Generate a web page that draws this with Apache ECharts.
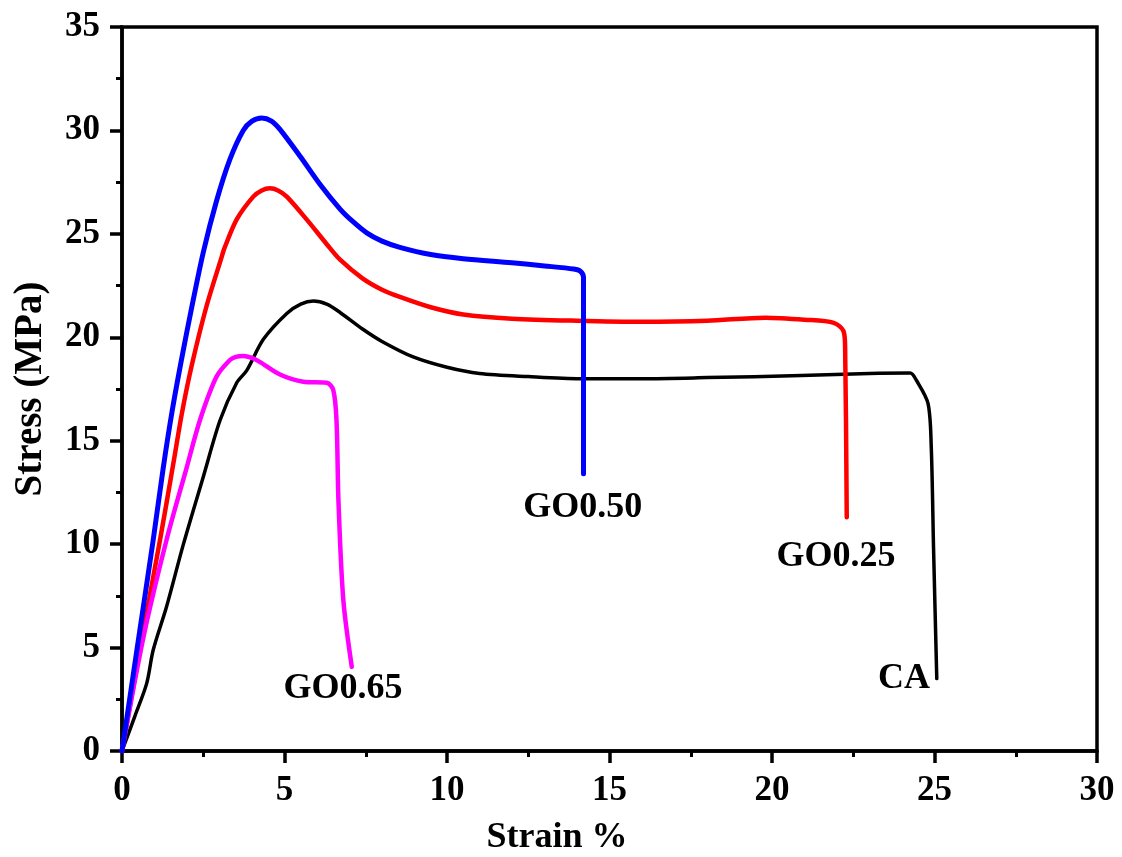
<!DOCTYPE html>
<html><head><meta charset="utf-8">
<script src="https://cdn.jsdelivr.net/npm/echarts@6/dist/echarts.min.js"></script>
<style>html,body{margin:0;padding:0;background:#fff}#c{width:1122px;height:857px}</style>
</head><body><div id="c"></div>
<script>
const xTicks = [0, 5, 10, 15, 20, 25, 30];
const yTicks = [0, 5, 10, 15, 20, 25, 30, 35];

const CA = [[0,0],[0.4,1.7],[0.76,3.27],[0.96,4.88],[1.37,6.97],[1.89,10.0],[2.5,13.25],[3.02,16.0],[3.53,17.8],[3.84,18.4],[4.35,19.9],[5.07,21.15],[5.5,21.6],[5.89,21.75],[6.3,21.6],[6.71,21.2],[7.4,20.4],[8.0,19.8],[8.96,19.05],[10,18.55],[11,18.25],[12.5,18.1],[14.1,18.0],[16,18.0],[18,18.05],[20.9,18.15],[23,18.25],[24.25,18.27],[24.45,17.9],[24.8,16.8],[24.9,14.7],[24.97,9.85],[25.07,3.5]];
const GO025 = [[0,0],[0.55,4.9],[1.17,10.2],[1.58,13.9],[1.84,16.3],[2.14,18.6],[2.6,21.5],[3.07,23.9],[3.15,24.3],[3.53,25.7],[4.04,26.8],[4.3,27.1],[4.55,27.2],[4.8,27.1],[5.07,26.8],[5.68,25.7],[6.3,24.5],[6.71,23.75],[7.4,22.85],[8.0,22.3],[8.55,21.95],[9.5,21.45],[10.5,21.1],[12,20.9],[14,20.8],[16,20.75],[18,20.8],[19.8,20.95],[21,20.85],[21.9,20.7],[22.2,20.3],[22.25,19.5],[22.3,11.3]];
const GO050 = [[0,0],[0.46,4.9],[0.96,10.2],[1.27,13.7],[1.55,16.5],[1.84,19.0],[2.14,21.4],[2.5,24.1],[2.91,26.6],[3.32,28.6],[3.73,30.0],[4.0,30.45],[4.3,30.6],[4.6,30.45],[4.86,30.05],[5.48,28.75],[6.09,27.4],[6.71,26.2],[7.1,25.6],[7.53,25.05],[8.0,24.65],[8.55,24.35],[9.5,24.0],[10.5,23.8],[12,23.6],[13,23.45],[13.9,23.3],[14.1,23.2],[14.2,22.9],[14.2,13.4]];
const GO065 = [[0,0],[0.66,5.5],[1.37,10.2],[1.99,13.7],[2.4,16.0],[2.91,18.1],[3.32,18.9],[3.5,19.05],[3.73,19.1],[4.0,19.0],[4.25,18.8],[4.86,18.2],[5.58,17.85],[6.3,17.8],[6.5,17.45],[6.6,16.0],[6.66,12.1],[6.81,7.3],[7.07,4.07]];

const labelNames = ['GO0.50', 'GO0.25', 'GO0.65', 'CA'];
const labelPos = [[14.18, 11.75], [21.97, 9.4], [6.8, 3.0], [24.06, 3.5]];

const FONT = '"Liberation Serif","Times New Roman",serif';
const chart = echarts.init(document.getElementById('c'));
function line(name, data, color, w) {
  return { name, type: 'line', data, symbol: 'none', smooth: 0.3,
    lineStyle: { color, width: w, cap: 'round', join: 'round' }, z: 3 };
}
chart.setOption({
  animation: false,
  grid: { left: 122, top: 27, width: 975, height: 724, containLabel: false, outerBoundsMode: 'none',
    show: true, borderColor: '#000', borderWidth: 3.5, backgroundColor: 'transparent' },
  xAxis: {
    type: 'value', min: xTicks[0], max: xTicks[xTicks.length - 1], interval: 5,
    name: 'Strain %', nameLocation: 'middle', nameGap: 69,
    nameTextStyle: { fontFamily: FONT, fontWeight: 'bold', fontSize: 36, color: '#000', padding: [0, 105, 0, 0] },
    axisLine: { show: true, lineStyle: { color: '#000', width: 3.5 } },
    axisTick: { show: true, inside: false, length: 12, lineStyle: { color: '#000', width: 3.5 } },
    minorTick: { show: true, splitNumber: 2, length: 6, lineStyle: { color: '#000', width: 3 } },
    axisLabel: { fontFamily: FONT, fontWeight: 'bold', fontSize: 35, color: '#000', margin: 22 },
    splitLine: { show: false }
  },
  yAxis: {
    type: 'value', min: yTicks[0], max: yTicks[yTicks.length - 1], interval: 5,
    name: 'Stress (MPa)', nameLocation: 'middle', nameGap: 72, nameRotate: 90,
    nameTextStyle: { fontFamily: FONT, fontWeight: 'bold', fontSize: 39, color: '#000' },
    axisLine: { show: true, lineStyle: { color: '#000', width: 3.5 } },
    axisTick: { show: true, inside: false, length: 12, lineStyle: { color: '#000', width: 3.5 } },
    minorTick: { show: true, splitNumber: 2, length: 6, lineStyle: { color: '#000', width: 3 } },
    axisLabel: { fontFamily: FONT, fontWeight: 'bold', fontSize: 35, color: '#000', margin: 22 },
    splitLine: { show: false }
  },
  series: [
    line('CA', CA, '#000000', 3.5),
    line('GO0.25', GO025, '#ff0000', 4.5),
    line('GO0.65', GO065, '#ff00ff', 4.5),
    line('GO0.50', GO050, '#0000ff', 5),
    {
      type: 'scatter', symbolSize: 0, silent: true, z: 5,
      itemStyle: { opacity: 1 },
      data: labelPos.map((p, i) => ({ value: p, name: labelNames[i] })),
      label: { show: true, position: 'inside', formatter: p => p.name, opacity: 1,
        fontFamily: FONT, fontWeight: 'bold', fontSize: 36, color: '#000' }
    }
  ]
});
</script></body></html>
